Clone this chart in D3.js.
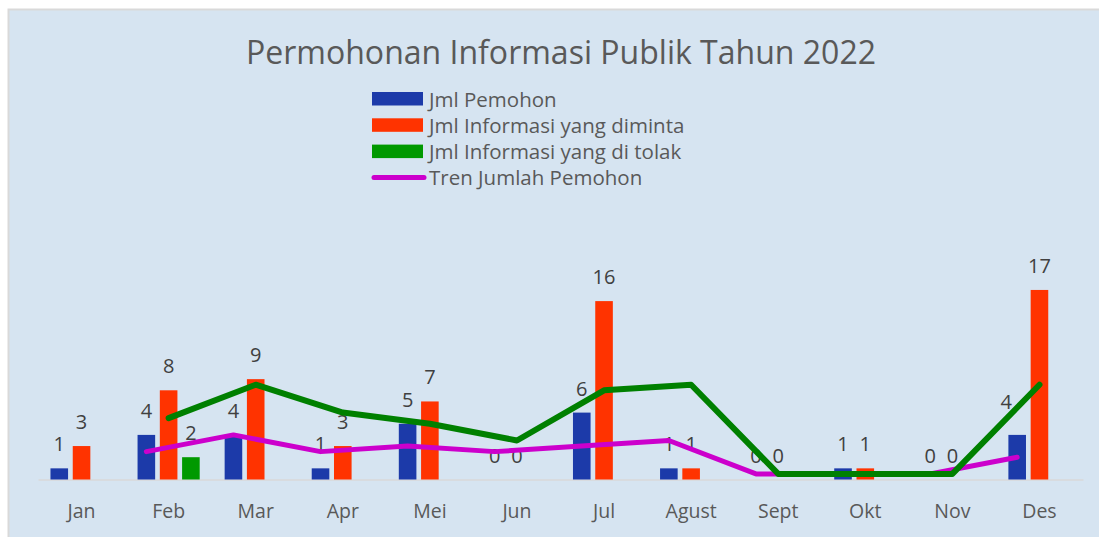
<!DOCTYPE html>
<html lang="id">

<head>
  <meta charset="utf-8">
  <title>Permohonan Informasi Publik Tahun 2022</title>
  <script src="https://d3js.org/d3.v7.min.js" charset="utf-8"></script>
  <style type="text/css">
    body {
      margin: 0;
      background: #fff;
    }

    text {
      font-family: "Open Sans", sans-serif;
    }
  </style>
</head>

<body>
  <script type="text/javascript">
    // data
    var months = ["Jan", "Feb", "Mar", "Apr", "Mei", "Jun", "Jul", "Agust", "Sept", "Okt", "Nov", "Des"];
    var pemohon = [1, 4, 4, 1, 5, 0, 6, 1, 0, 1, 0, 4];
    var diminta = [3, 8, 9, 3, 7, 0, 16, 1, 0, 1, 0, 17];
    var ditolak = [null, 2, null, null, null, null, null, null, null, null, null, null];
    // trend lines as drawn (green follows the orange bars, magenta the blue ones)
    var trenDiminta = [null, 5.5, 8.5, 6, 5, 3.5, 8, 8.5, 0.5, 0.5, 0.5, 8.5];
    var trenPemohon = [null, 2.5, 4, 2.5, 3, 2.5, 3, 3.5, 0.5, 0.5, 0.5, 2];

    var seriesNames = ["Jml Pemohon", "Jml Informasi yang diminta", "Jml Informasi yang di tolak"];
    var colors = ["#1c3aa9", "#ff3300", "#009900"];
    var lineColors = {
      diminta: "#008000",
      pemohon: "#cc00cc"
    };

    var width = 1099,
      height = 537,
      plot = { left: 38, right: 1083, bottom: 479.5 };

    var svg = d3.select("body")
      .append("svg")
      .attr("width", width)
      .attr("height", height);

    // chart area
    svg.append("rect")
      .attr("x", 8.5)
      .attr("y", 9.5)
      .attr("width", 1120)
      .attr("height", 540)
      .attr("fill", "#d6e4f1")
      .attr("stroke", "#d9d9d9")
      .attr("stroke-width", 2);

    svg.append("text")
      .attr("x", 561)
      .attr("y", 64)
      .attr("text-anchor", "middle")
      .attr("font-size", "33.5px")
      .attr("fill", "#595959")
      .attr("textLength", 630)
      .attr("lengthAdjust", "spacingAndGlyphs")
      .text("Permohonan Informasi Publik Tahun 2022");

    var x = d3.scaleBand()
      .domain(months)
      .range([plot.left, plot.right]);

    var x1 = d3.scaleBand()
      .domain([0, 1, 2])
      .range([0, x.bandwidth()])
      .paddingInner(0.21)
      .paddingOuter(0.56);

    var y = d3.scaleLinear()
      .domain([0, 18])
      .range([plot.bottom, plot.bottom - 18 * 11.15]);

    var all = [pemohon, diminta, ditolak];

    var rows = [];
    all.forEach(function (arr, s) {
      arr.forEach(function (v, i) {
        if (v !== null) rows.push({ s: s, m: months[i], v: v });
      });
    });

    // baseline + month labels
    svg.append("g")
      .attr("transform", "translate(0," + plot.bottom + ")")
      .call(d3.axisBottom(x).tickSize(0).tickPadding(25))
      .call(function (g) {
        g.select(".domain").attr("stroke", "#d9d9d9").attr("stroke-width", 1.5);
        g.selectAll("text")
          .attr("font-size", "19.5px")
          .attr("fill", "#595959")
          .attr("font-family", "'Open Sans', sans-serif");
      });

    svg.append("g")
      .selectAll("rect")
      .data(rows.filter(function (d) { return d.v > 0; }))
      .enter()
      .append("rect")
      .attr("x", function (d) { return x(d.m) + x1(d.s); })
      .attr("y", function (d) { return y(d.v); })
      .attr("width", x1.bandwidth())
      .attr("height", function (d) { return y(0) - y(d.v); })
      .attr("fill", function (d) { return colors[d.s]; });

    // data labels
    svg.append("g")
      .selectAll("text")
      .data(rows)
      .enter()
      .append("text")
      .attr("x", function (d) {
        var dx = (d.m == "Des" && d.s == 0) ? -11 : 0;
        return x(d.m) + x1(d.s) + x1.bandwidth() / 2 + dx;
      })
      .attr("y", function (d) {
        var dy = (d.m == "Des" && d.s == 0) ? -9 : 0;
        return y(d.v) - 17 + dy;
      })
      .attr("text-anchor", "middle")
      .attr("font-size", "20px")
      .attr("fill", "#404040")
      .text(function (d) { return d.v; });

    function trend(values, s, color, w) {
      var pts = values.map(function (v, i) {
        return v === null ? null : [x(months[i]) + x1(s) + x1.bandwidth() / 2, y(v)];
      }).filter(function (p) { return p; });
      svg.append("path")
        .attr("d", d3.line()(pts))
        .attr("fill", "none")
        .attr("stroke", color)
        .attr("stroke-width", w)
        .attr("stroke-linejoin", "round")
        .attr("stroke-linecap", "round");
    }

    trend(trenPemohon, 0, lineColors.pemohon, 5);
    trend(trenDiminta, 1, lineColors.diminta, 6);

    // legend
    var legend = svg.append("g").attr("transform", "translate(372,92)");
    var items = seriesNames.concat(["Tren Jumlah Pemohon"]);
    items.forEach(function (name, i) {
      var row = legend.append("g").attr("transform", "translate(0," + (i * 26.3) + ")");
      if (i < 3) {
        row.append("rect")
          .attr("width", 51)
          .attr("height", 13.5)
          .attr("fill", colors[i]);
      } else {
        row.append("line")
          .attr("x1", 2).attr("x2", 52)
          .attr("y1", 6.5).attr("y2", 6.5)
          .attr("stroke", lineColors.pemohon)
          .attr("stroke-width", 5)
          .attr("stroke-linecap", "round");
      }
      row.append("text")
        .attr("x", 57)
        .attr("y", 14.5)
        .attr("font-size", "20.5px")
        .attr("fill", "#595959")
        .text(name);
    });
  </script>
</body>

</html>
